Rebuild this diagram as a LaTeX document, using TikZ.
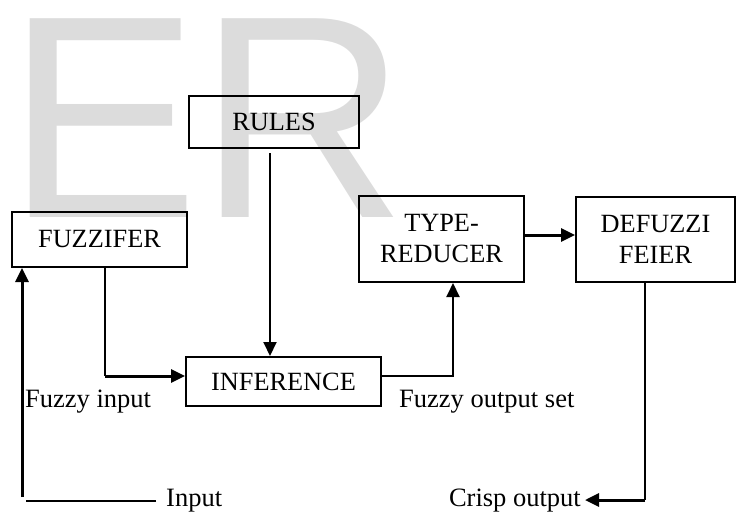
\documentclass[tikz,border=0pt]{standalone}
\usepackage{fontspec}
\setmainfont{Liberation Serif}
\newfontfamily\wmfont{Liberation Sans}
\usetikzlibrary{arrows.meta}
\definecolor{wm}{HTML}{DCDCDC}
\begin{document}
\begin{tikzpicture}[x=1pt,y=1pt,
  box/.style={draw,line width=2pt,inner sep=0pt,align=center,font=\fontsize{26.3}{31}\selectfont},
  lbl/.style={inner sep=0pt,font=\fontsize{26.5}{31}\selectfont},
  ln/.style={line width=2pt},
  tk/.style={line width=3pt},
  tip/.style={-{Triangle[length=14pt,width=13pt]}}]
\useasboundingbox (0,0) rectangle (743,-514);
\node[anchor=base west,inner sep=0pt,text=wm,font=\wmfont\fontsize{289}{289}\selectfont] (wmk) at (6,-217) {ER};
% boxes
\node[box,minimum width=170pt,minimum height=52pt] (rules) at (274,-122) {RULES};
\node[box,minimum width=175pt,minimum height=55pt] (fuzz) at (99.5,-239.5) {FUZZIFER};
\node[box,minimum width=195pt,minimum height=49pt] (inf) at (283.5,-381.5) {INFERENCE};
\node[box,minimum width=165pt,minimum height=86pt] (type) at (441.5,-239) {TYPE-\\REDUCER};
\node[box,minimum width=159pt,minimum height=85pt] (defz) at (655.5,-239.5) {DEFUZZI\\FEIER};
% labels
\node[lbl,anchor=base west] (fin) at (25,-407) {Fuzzy input};
\node[lbl,anchor=base west] (fout) at (399,-407) {Fuzzy output set};
\node[lbl,anchor=base west] (inp) at (166,-506) {Input};
\node[lbl,anchor=base east] (crisp) at (581,-506) {Crisp output};
% connectors
\coordinate (c0) at (22,-501);
\coordinate (c1) at (105,-376);
\coordinate (c2) at (645,-500);
\draw[ln] ([xshift=-10pt]inp.west |- c0) -- ([xshift=4pt]c0);
\draw[tk,tip] ([yshift=4pt]c0) -- (c0 |- fuzz.south);
\draw[ln] ([xshift=5.5pt]fuzz.south) -- (c1);
\draw[tk,tip] (c1) -- (c1 -| inf.west);
\draw[ln,tip] ([xshift=-4pt,yshift=-4pt]rules.south) -- ([xshift=-4pt]rules.south |- inf.north);
\draw[ln,tip] ([yshift=5.5pt]inf.east) -| ([xshift=11.5pt]type.south);
\draw[tk,tip] ([yshift=4pt]type.east) -- ([yshift=4pt]type.east -| defz.west);
\draw[ln] ([xshift=-10.5pt]defz.south) -- (c2);
\draw[tk,tip] (c2) -- ([xshift=4pt]crisp.east |- c2);
\end{tikzpicture}
\end{document}
